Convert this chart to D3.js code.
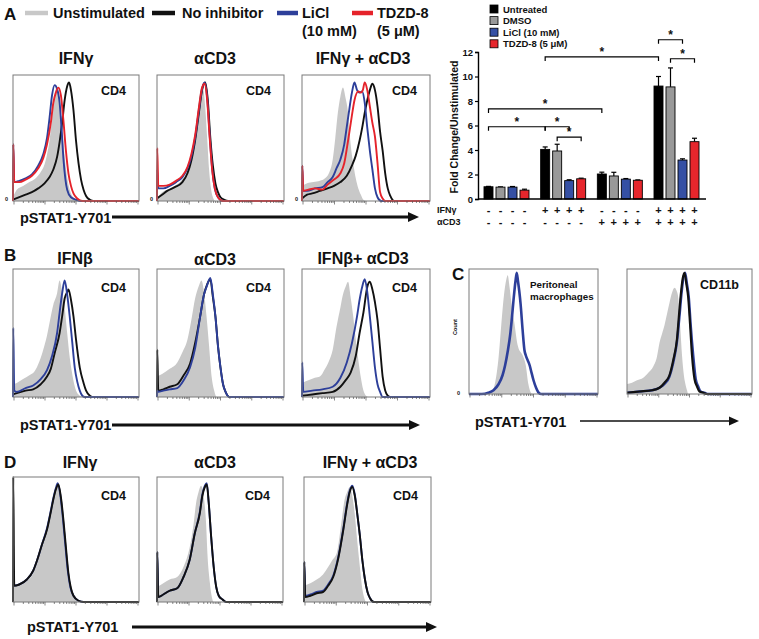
<!DOCTYPE html>
<html><head><meta charset="utf-8">
<script src="https://cdn.jsdelivr.net/npm/d3@7"></script>
<style>
body{margin:0;background:#fff}
svg{display:block}
text{font-family:"Liberation Sans",Arial,sans-serif;font-weight:bold;fill:#111}
</style>
</head><body>
<svg id="fig" width="759" height="639"></svg>
<script>
// ---------------- BAR CHART DATA ----------------
const barGroups = ["g1","g2","g3","g4"];
const barSeries = ["Untreated","DMSO","LiCl (10 mM)","TDZD-8 (5 μM)"];
const untreated    = [1.00, 4.05, 2.04, 9.22];
const untreatedErr = [0.03, 0.20, 0.15, 0.78];
const dmso         = [0.97, 3.92, 1.88, 9.15];
const dmsoErr      = [0.02, 0.55, 0.30, 1.55];
const licl         = [0.97, 1.50, 1.62, 3.18];
const liclErr      = [0.05, 0.07, 0.05, 0.10];
const tdzd         = [0.72, 1.65, 1.53, 4.68];
const tdzdErr      = [0.08, 0.05, 0.03, 0.28];
const yTicks = [0,2,4,6,8,10,12];
const ifnRow = ["-","+","-","+"];
const cd3Row = ["-","-","+","+"];
// significance brackets: [groupA, seriesA, groupB, seriesB, yValue]
const sigBrackets = [
  [0,0,1,0,5.9],[1,0,1,2,5.9],[1,1,1,3,5.05],[0,0,2,0,7.35],
  [1,0,3,0,11.6],[3,0,3,2,13.0],[3,1,3,3,11.45]
];

// ---------------- HISTOGRAM DATA ([x %, count %]) ----------------
const a1Gray  = [[0,3],[3,9],[8,12],[13,15],[18,18],[22,23],[25,29],[27,37],[29,48],[31,66],[33,84],[34.5,90],[36,86],[38,70],[40,46],[42,26],[44,13],[46,6],[49,2],[53,0],[100,0]];
const a1Black = [[0,1],[5,3],[10,5],[15,7],[20,10],[25,14],[29,19],[32,25],[35,35],[37,47],[39,62],[41,80],[43,91],[44.5,94],[46,88],[48,72],[50,48],[52,30],[54,17],[56,9],[58,4],[61,1],[64,0],[100,0]];
const a1Blue  = [[0,0],[0.2,45],[1,15],[5,16],[10,18],[15,21],[20,28],[24,37],[27,50],[29,66],[31,84],[33,92],[35,89],[37,78],[38.5,58],[40,34],[41.5,18],[43,9],[46,3],[50,1],[54,0],[100,0]];
const a1Red   = [[0,0],[0.2,45],[1,15],[5,15],[10,17],[15,20],[20,26],[24,34],[27,45],[30,62],[32,78],[34,86],[36,90],[38,84],[40,64],[42,40],[44,22],[46,12],[48,6],[51,2],[55,0],[100,0]];

const a2Gray  = [[0,2],[4,7],[8,9],[14,12],[19,16],[23,22],[26,30],[29,45],[31,62],[33,80],[35,90],[36.5,88],[38,74],[39.5,50],[41,25],[42.5,10],[44,3],[46,0],[100,0]];
const a2Black = [[0,2],[4,5],[8,8],[14,11],[20,15],[24,22],[27,32],[30,48],[33,70],[35.5,88],[38,94],[40,80],[42,50],[44,28],[46,14],[48,7],[50,3],[53,1],[56,0],[100,0]];
const a2Blue  = [[0,0],[0.2,25],[1,10],[5,10],[10,12],[15,15],[20,19],[24,26],[27,35],[30,50],[33,72],[35.5,89],[37.5,94],[39.5,82],[41.5,52],[43.5,25],[45.5,10],[48,3],[52,0],[100,0]];
const a2Red   = [[0,0],[0.2,42],[1,12],[5,12],[10,13],[15,16],[20,20],[24,27],[27,37],[30,52],[33,74],[35.5,90],[37.5,93],[39.5,80],[41.5,50],[43.5,24],[45.5,10],[48,3],[52,0],[100,0]];

const a3Gray  = [[0,12],[4,14],[9,15],[14,16],[18,18],[21,22],[24,33],[26,50],[28,70],[30,83],[32,90],[34,82],[36,70],[38,45],[40,30],[42,18],[44,10],[46,5],[48,1],[50,0],[100,0]];
const a3Black = [[0,2],[4,5],[8,6],[14,8],[20,10],[25,12],[30,15],[35,20],[39,28],[42,36],[45,48],[47,58],[49,70],[51,80],[53,88],[55,93],[57,88],[59,75],[61,55],[63,40],[65,22],[67,10],[69,4],[72,0],[100,0]];
const a3Blue  = [[0,0],[0.2,28],[1,8],[4,8],[10,10],[16,11],[20,15],[24,19],[27,26],[30,33],[33,45],[35,59],[37,73],[39,86],[41,94],[43,88],[45,86],[47,87],[49,78],[51,58],[53,40],[55,25],[57,10],[59,3],[62,0],[100,0]];
const a3Red   = [[0,0],[0.2,28],[1,8],[5,9],[10,10],[16,9],[20,13],[25,17],[30,22],[33,30],[36,48],[39,68],[41,80],[44,87],[46,86],[47.5,88],[49,94],[51,88],[53,75],[55,62],[57,51],[59,30],[61,7],[63,2],[65,0],[100,0]];

const b1Gray  = [[0,10],[3,11],[8,14],[13,17],[17,20],[21,28],[24,37],[27,48],[29,58],[32,72],[35,81],[37,91],[39,82],[41,70],[43,50],[45,31],[47,18],[50,5],[53,1],[55,0],[100,0]];
const b1Black = [[0,2],[3,3],[10,5],[16,6],[22,10],[27,16],[30,22],[33,34],[37,50],[39,63],[41,77],[43,82],[44,84],[46,76],[48,63],[50,45],[53,23],[56,11],[58,5],[61,1],[63,0],[100,0]];
const b1Blue  = [[0,0],[0.2,54],[1,5],[3,4],[10,7],[16,9],[22,14],[27,21],[31,32],[35,50],[37,66],[39,81],[41,91],[43,80],[45,63],[47,43],[49,23],[51,12],[53,5],[55,1],[57,0],[100,0]];

const b2Gray  = [[0,16],[4,18],[10,22],[16,27],[20,35],[24,45],[27,60],[30,77],[33,87],[35,91],[37,82],[39,63],[41,40],[43,16],[45,5],[47,0],[100,0]];
const b2Black = [[0,0],[0.2,37],[1,5],[5,6],[10,8],[16,10],[21,17],[26,26],[30,42],[34,63],[37,80],[39.5,88],[42,92],[44,78],[46,63],[48,40],[50,23],[52,10],[54,4],[57,0],[100,0]];
const b2Blue  = [[0,0],[0.2,5],[1,4],[5,5],[10,6],[16,7],[21,13],[26,23],[30,38],[34,63],[37,80],[39,86],[42,93],[44,80],[46,63],[48,40],[50,23],[52,10],[54,4],[57,0],[100,0]];

const b3Gray  = [[0,11],[5,13],[10,15],[14,16],[18,22],[21,28],[24,37],[27,55],[30,70],[32,80],[34,86],[36,90],[38,78],[40,63],[42,45],[44,29],[46,15],[48,5],[50,1],[52,0],[100,0]];
const b3Black = [[0,1],[8,2],[16,3],[24,4],[30,8],[34,13],[38,19],[42,32],[45,50],[48,66],[51,86],[53,90],[55,84],[57,74],[59,60],[61,38],[63,16],[65,5],[67,1],[69,0],[100,0]];
const b3Blue  = [[0,0],[0.2,27],[1,4],[8,5],[16,6],[24,8],[30,15],[35,27],[39,42],[43,63],[45,76],[47,86],[49,92],[51,82],[53,63],[55,43],[57,23],[59,10],[61,4],[63,0],[100,0]];

const c1Gray  = [[0,0],[14,0],[18,2],[20,8],[23,30],[25,55],[27,78],[29,92],[30,95],[31.5,85],[33,72],[35,58],[38,38],[42,30],[44,23],[46,8],[48,1],[49,0],[100,0]];
const c1Blue  = [[0,0],[10,0],[15,1],[19,3],[23,8],[26,15],[28,23],[30,34],[32,48],[33,58],[34.5,75],[36,90],[37,97],[38,90],[39,82],[40,72],[41.5,52],[43,35],[44,31],[45.5,27],[47,23],[48,19],[50,11],[52,5],[54,1],[56,0],[100,0]];

const c2Gray  = [[0,8],[4,9],[8,11],[13,13],[17,17],[21,22],[24,30],[26,41],[28,48],[30,55],[32,64],[34,73],[36,81],[38,85],[39.5,83],[41,77],[42.5,55],[44,31],[45.5,15],[46.5,9],[48,3],[49,0],[100,0]];
const c2Black = [[0,1],[10,2],[20,3],[26,5],[30,9],[34,15],[37,27],[40,44],[41.5,62],[43,79],[44.5,92],[46,97],[47.5,88],[49,77],[50.5,55],[52,31],[54,12],[56,6],[58,2],[61,1],[64,0],[100,0]];
const c2Blue  = [[0,1],[10,2],[20,3],[26,5],[30,8],[34,14],[37,25],[40,42],[42,62],[43.5,79],[45,92],[46.5,97],[48,88],[49.5,77],[51,55],[53,31],[55,12],[57,6],[59,2],[62,1],[65,0],[100,0]];

const d1Gray  = [[0,12],[5,13],[11,17],[16,23],[19,32],[23,45],[27,58],[30,72],[32,82],[34,90],[36,93],[38,82],[40,66],[42,44],[44,23],[46,11],[48,5],[52,1],[56,0],[100,0]];
const d1Black = [[0,0],[0.2,100],[1,13],[5,14],[11,18],[16,25],[19,33],[23,46],[27,58],[30,72],[32,82],[34,90],[36,94],[38,84],[40,66],[42,44],[44,23],[46,11],[48,5],[52,1],[56,0],[100,0]];
const d1Blue  = [[0,13],[5,14],[11,18],[16,25],[19,33],[23,46],[27,59],[30,73],[32,83],[34,91],[35.5,95],[37.5,86],[39.5,68],[41.5,46],[43.5,25],[45.5,12],[48,5],[52,1],[56,0],[100,0]];

const d2Gray  = [[0,12],[5,15],[10,18],[16,20],[21,28],[26,44],[29,62],[31,79],[33,88],[35,93],[37,85],[39,62],[40,39],[42,15],[43.5,4],[45,0],[100,0]];
const d2Black = [[0,0],[0.2,40],[1,4],[5,6],[10,9],[16,11],[21,20],[26,34],[30,55],[34,71],[36,85],[38,92],[39.5,94],[41,80],[43,52],[45,28],[47,12],[49,5],[52,2],[55,0],[100,0]];
const d2Blue  = [[0,0],[0.2,40],[1,4],[5,6],[10,9],[16,11],[21,20],[26,34],[30,55],[34,72],[36,86],[38,93],[39.5,95],[41,80],[43,52],[45,28],[47,12],[49,5],[52,2],[55,0],[100,0]];

const d3Gray  = [[0,13],[5,15],[10,18],[15,22],[19,28],[22,33],[26,40],[29,60],[32,82],[34,88],[36,92],[38,85],[40,70],[42,48],[44,28],[46,10],[47.5,3],[49,0],[100,0]];
const d3Black = [[0,0],[0.2,32],[1,4],[5,5],[10,7],[15,8],[19,13],[23,20],[27,35],[31,58],[34,78],[36,88],[38,92],[40,85],[42,70],[44,53],[46,33],[48,18],[50,8],[52,3],[55,0],[100,0]];
const d3Blue  = [[0,0],[0.2,32],[1,5],[5,6],[10,8],[15,9],[19,14],[23,21],[27,36],[31,59],[34,79],[36,89],[38,93],[40,86],[42,70],[44,53],[46,33],[48,18],[50,8],[52,3],[55,0],[100,0]];

// ---------------- DRAWING ----------------
const COL = {gray:"#c8c8c8", black:"#111111", blue:"#2d3f9a", red:"#e5232b"};
const svg = d3.select("#fig");

function txt(x,y,s,size,anchor){
  return svg.append("text").attr("x",x).attr("y",y).text(s)
    .attr("font-size",size).attr("text-anchor",anchor||"start");
}

function histPanel(x0,x1,yTop,yBot,layers,label){
  const x = d3.scaleLinear().domain([0,100]).range([x0,x1]);
  const y = d3.scaleLinear().domain([0,100]).range([yBot,yTop]);
  const g = svg.append("g");
  layers.forEach(L=>{
    if(L.fill){
      g.append("path").datum(L.data)
        .attr("d", d3.area().x(d=>x(d[0])).y0(yBot).y1(d=>y(d[1])).curve(d3.curveMonotoneX))
        .attr("fill",COL.gray);
    } else {
      g.append("path").datum(L.data)
        .attr("d", d3.line().x(d=>x(d[0])).y(d=>y(d[1])).curve(d3.curveMonotoneX))
        .attr("fill","none").attr("stroke",COL[L.c]).attr("stroke-width",L.w||1.9)
        .attr("stroke-linejoin","round");
    }
  });
  g.append("rect").attr("x",x0).attr("y",yTop).attr("width",x1-x0).attr("height",yBot-yTop)
    .attr("fill","none").attr("stroke","#7a7a7a").attr("stroke-width",1);
  const lx = d3.scaleLog().domain([10,100000]).range([x0+1,x1-1]);
  const tv = lx.ticks();
  g.selectAll("line.tk").data(tv).enter().append("line")
    .attr("x1",d=>lx(d)).attr("x2",d=>lx(d)).attr("y1",yBot)
    .attr("y2",d=> (Math.abs(Math.log10(d)%1)<1e-9) ? yBot+3.5 : yBot+2)
    .attr("stroke","#555").attr("stroke-width",0.7);
  if(label){
    txt(x1-13, yTop+ (label.dy||21), label.t, label.size||12.5, "end");
  }
}

function arrow(xs,xe,y,w,head){
  svg.append("line").attr("x1",xs).attr("x2",xe-head).attr("y1",y).attr("y2",y)
    .attr("stroke","#111").attr("stroke-width",w);
  svg.append("path").attr("d",`M${xe-head-1},${y-head*0.5}L${xe},${y}L${xe-head-1},${y+head*0.5}Z`).attr("fill","#111");
}

// ---- Panel A legend ----
txt(4,20,"A",17);
const legA = [[25,48,"gray"],[152,175,"black"],[277,298,"blue"],[352,373,"red"]];
legA.forEach(l=>svg.append("line").attr("x1",l[0]).attr("x2",l[1]).attr("y1",13).attr("y2",13)
  .attr("stroke",COL[l[2]]).attr("stroke-width",4.5));
txt(53,18,"Unstimulated",14.5);
txt(182,18,"No inhibitor",14.5);
txt(302,18,"LiCl",14.5);
txt(302,36,"(10 mM)",14.5);
txt(377,18,"TDZD-8",14.5);
txt(377,36,"(5 μM)",14.5);

// ---- Panel A histograms ----
const aTop=75, aBot=201;
txt(76,64,"IFNγ",16,"middle");
txt(215,64,"αCD3",16,"middle");
txt(363,64,"IFNγ + αCD3",16,"middle");
histPanel(13,139,aTop,aBot,[{fill:1,data:a1Gray},{c:"black",data:a1Black},{c:"blue",data:a1Blue},{c:"red",data:a1Red}],{t:"CD4",dy:20});
histPanel(157,284,aTop,aBot,[{fill:1,data:a2Gray},{c:"black",data:a2Black},{c:"blue",data:a2Blue},{c:"red",data:a2Red}],{t:"CD4",dy:20});
histPanel(302,430,aTop,aBot,[{fill:1,data:a3Gray},{c:"black",data:a3Black},{c:"blue",data:a3Blue},{c:"red",data:a3Red}],{t:"CD4",dy:20});
[5,150,295].forEach(x=>txt(x,201,"0",5.5));
txt(20,223,"pSTAT1-Y701",14.5);
arrow(112,419,217,3.2,10);

// ---- Panel B ----
txt(4,261,"B",17);
txt(75,264,"IFNβ",16,"middle");
txt(215,265,"αCD3",16,"middle");
txt(363,264,"IFNβ+ αCD3",16,"middle");
const bTop=269, bBot=397;
histPanel(13,139,bTop,bBot,[{fill:1,data:b1Gray},{c:"black",data:b1Black},{c:"blue",data:b1Blue}],{t:"CD4",dy:23});
histPanel(157,284,bTop,bBot,[{fill:1,data:b2Gray},{c:"black",data:b2Black},{c:"blue",data:b2Blue}],{t:"CD4",dy:23});
histPanel(302,430,bTop,bBot,[{fill:1,data:b3Gray},{c:"black",data:b3Black},{c:"blue",data:b3Blue}],{t:"CD4",dy:23});
txt(20,430,"pSTAT1-Y701",14.5);
arrow(112,420,425,3.2,10);

// ---- Panel C ----
txt(452,280,"C",17);
const cTop=269, cBot=394;
histPanel(469,598,cTop,cBot,[{fill:1,data:c1Gray},{c:"blue",data:c1Blue,w:2.6}],null);
histPanel(627,752,cTop,cBot,[{fill:1,data:c2Gray},{c:"blue",data:c2Blue,w:2.4},{c:"black",data:c2Black,w:2.2}],{t:"CD11b",dy:20,size:12.5});
txt(530,288,"Peritoneal",9.8);
txt(530,300,"macrophages",9.8);
svg.append("text").attr("transform","translate(457,327) rotate(-90)").attr("text-anchor","middle")
  .attr("font-size",5.5).attr("font-weight","normal").text("Count");
txt(457,395,"0",5.5);
txt(475,427,"pSTAT1-Y701",14.5);
arrow(580,739,421,1.6,9);

// ---- Panel D ----
txt(4,468,"D",17);
txt(80,468,"IFNγ",16,"middle");
txt(215,468,"αCD3",16,"middle");
txt(370,468,"IFNγ + αCD3",16,"middle");
const dTop=477, dBot=602;
histPanel(13,139,dTop,dBot,[{fill:1,data:d1Gray},{c:"blue",data:d1Blue},{c:"black",data:d1Black}],{t:"CD4",dy:23});
histPanel(157,283,dTop,dBot,[{fill:1,data:d2Gray},{c:"blue",data:d2Blue},{c:"black",data:d2Black}],{t:"CD4",dy:23});
histPanel(304,431,dTop,dBot,[{fill:1,data:d3Gray},{c:"blue",data:d3Blue},{c:"black",data:d3Black}],{t:"CD4",dy:23});
txt(27,632,"pSTAT1-Y701",14.5);
arrow(132,437,627,3.2,10);

// ---- Bar chart ----
const barVals = [untreated, dmso, licl, tdzd];
const barErrs = [untreatedErr, dmsoErr, liclErr, tdzdErr];
const barFill = ["#000000","#999999","#3550a4","#e6262c"];
const yB = d3.scaleLinear().domain([0,12]).range([199,52]);
const xG = d3.scaleBand().domain(barGroups).range([482.5,700.5]).paddingInner(0.153).paddingOuter(0);
const xS = d3.scaleBand().domain(barSeries).range([0,xG.bandwidth()]).paddingInner(0.25).paddingOuter(0.125);
const bw = xS.bandwidth();
const bar = svg.append("g");
barSeries.forEach((s,si)=>{
  barGroups.forEach((gname,gi)=>{
    const v = barVals[si][gi], e = barErrs[si][gi];
    const xl = xG(gname)+xS(s);
    const xc = xl + bw/2;
    bar.append("line").attr("x1",xc).attr("x2",xc).attr("y1",yB(v)).attr("y2",yB(v+e))
      .attr("stroke","#000").attr("stroke-width",1.2);
    bar.append("line").attr("x1",xc-2.5).attr("x2",xc+2.5).attr("y1",yB(v+e)).attr("y2",yB(v+e))
      .attr("stroke","#000").attr("stroke-width",1.2);
    bar.append("rect").attr("x",xl).attr("y",yB(v)).attr("width",bw).attr("height",yB(0)-yB(v))
      .attr("fill",barFill[si]).attr("stroke","#000").attr("stroke-width",0.9);
  });
});
const yAx = svg.append("g").attr("transform","translate(478,0)")
  .call(d3.axisLeft(yB).tickValues(yTicks).tickSize(3).tickPadding(2));
yAx.select(".domain").attr("stroke","#000").attr("stroke-width",1.4);
yAx.selectAll(".tick line").attr("stroke","#000").attr("stroke-width",1.2);
yAx.selectAll(".tick text").attr("font-size",9.5).attr("font-weight","bold")
  .attr("font-family","Liberation Sans, Arial, sans-serif").attr("fill","#111");
svg.append("line").attr("x1",478).attr("x2",706).attr("y1",199).attr("y2",199)
  .attr("stroke","#000").attr("stroke-width",1.6);
svg.append("text").attr("transform","translate(458,127) rotate(-90)").attr("text-anchor","middle")
  .attr("font-size",10.5).text("Fold Change/Unstimulated");
txt(437,213,"IFNγ",9);
txt(437,225,"αCD3",9);
barGroups.forEach((gname,gi)=>{
  barSeries.forEach(s=>{
    const xc = xG(gname)+xS(s)+bw/2;
    txt(xc,214,ifnRow[gi],11,"middle");
    txt(xc,226,cd3Row[gi],11,"middle");
  });
});
sigBrackets.forEach(b=>{
  const xa = xG(barGroups[b[0]])+xS(barSeries[b[1]])+bw/2;
  const xb = xG(barGroups[b[2]])+xS(barSeries[b[3]])+bw/2;
  const yy = yB(b[4]);
  svg.append("path").attr("d",`M${xa},${yy+4}V${yy}H${xb}V${yy+4}`)
    .attr("fill","none").attr("stroke","#000").attr("stroke-width",1.2);
  txt((xa+xb)/2, yy-1, "*", 12, "middle");
});
barSeries.forEach((s,i)=>{
  const cy = 9 + i*11.6;
  svg.append("rect").attr("x",490).attr("y",cy-4).attr("width",8).attr("height",8)
    .attr("fill",barFill[i]).attr("stroke","#000").attr("stroke-width",0.8);
  txt(503,cy+3.5,s,9.5);
});
</script>
</body></html>
